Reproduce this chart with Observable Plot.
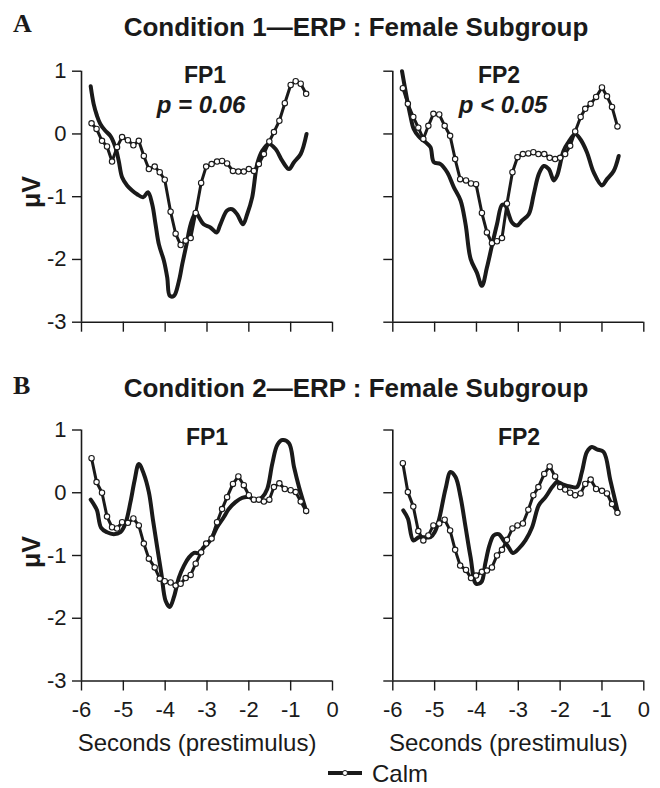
<!DOCTYPE html>
<html>
<head>
<meta charset="utf-8">
<script src="https://cdn.jsdelivr.net/npm/d3@7"></script>
<script src="https://cdn.jsdelivr.net/npm/@observablehq/plot@0.6"></script>
<style>
  html, body { margin: 0; padding: 0; background: #fff; }
  #wrap { position: relative; width: 660px; height: 788px; overflow: hidden; background: #fff; }
  #wrap > svg, #wrap > figure { position: absolute; margin: 0; }
</style>
</head>
<body>
<div id="wrap"></div>
<script>
// ---------- data ----------
const xTicks = [-6, -5, -4, -3, -2, -1, 0];
const xTickLabels = ["-6", "-5", "-4", "-3", "-2", "-1", "0"];
const yTicks = [1, 0, -1, -2, -3];
const yTickLabels = ["1", "0", "-1", "-2", "-3"];

const titleA = "Condition 1\u2014ERP : Female Subgroup";
const titleB = "Condition 2\u2014ERP : Female Subgroup";
const channels = ["FP1", "FP2"];
const pLabels = ["p = 0.06", "p < 0.05"];
const xTitle = "Seconds (prestimulus)";
const yTitle = "\u03bcV";
const legendLabel = "Calm";

// Calm condition (line with open markers), common sample times (s)
const calmT = [-5.76,-5.64,-5.51,-5.39,-5.27,-5.15,-5.03,-4.89,-4.76,-4.63,
               -4.51,-4.39,-4.25,-4.13,-4.01,-3.87,-3.75,-3.63,-3.51,-3.39,
               -3.27,-3.14,-3.02,-2.89,-2.76,-2.64,-2.52,-2.38,-2.25,-2.12,
               -2.00,-1.88,-1.76,-1.64,-1.51,-1.40,-1.27,-1.14,-1.00,-0.88,
               -0.76,-0.63];
const calmA_FP1 = [0.17,0.08,-0.11,-0.20,-0.44,-0.21,-0.05,-0.10,-0.18,-0.11,
                   -0.35,-0.56,-0.52,-0.61,-0.73,-1.24,-1.59,-1.77,-1.70,-1.66,
                   -1.26,-0.78,-0.52,-0.48,-0.44,-0.43,-0.47,-0.59,-0.60,-0.60,
                   -0.56,-0.59,-0.48,-0.32,-0.12,0.03,0.21,0.49,0.78,0.84,
                   0.80,0.64];
const calmA_FP2 = [0.73,0.48,0.27,0.10,-0.08,0.13,0.32,0.31,0.13,-0.03,
                   -0.40,-0.72,-0.74,-0.79,-0.80,-1.26,-1.57,-1.74,-1.71,-1.66,
                   -1.11,-0.61,-0.37,-0.32,-0.31,-0.29,-0.32,-0.32,-0.38,-0.40,
                   -0.38,-0.32,-0.19,0.04,0.27,0.40,0.48,0.59,0.74,0.60,
                   0.43,0.12];
const calmB_FP1 = [0.55,0.17,0.00,-0.38,-0.55,-0.57,-0.47,-0.48,-0.41,-0.52,
                   -0.81,-1.05,-1.19,-1.37,-1.41,-1.43,-1.48,-1.45,-1.36,-1.31,
                   -1.13,-0.95,-0.81,-0.73,-0.47,-0.26,-0.07,0.14,0.26,0.12,
                   -0.04,-0.11,-0.11,-0.14,-0.11,0.09,0.15,0.06,0.04,0.01,
                   -0.14,-0.29];
const calmB_FP2 = [0.47,0.01,-0.22,-0.61,-0.76,-0.68,-0.52,-0.49,-0.43,-0.60,
                   -0.91,-1.16,-1.23,-1.36,-1.32,-1.26,-1.24,-1.19,-1.00,-0.91,
                   -0.75,-0.57,-0.52,-0.49,-0.27,-0.04,0.09,0.30,0.42,0.26,
                   0.09,0.05,0.00,-0.04,-0.01,0.14,0.21,0.06,0.03,-0.01,
                   -0.18,-0.32];

// Other condition (solid line)
const solidA_FP1_t = [-5.78,-5.71,-5.63,-5.55,-5.43,-5.31,-5.19,-5.11,-5.03,-4.91,
                      -4.79,-4.67,-4.53,-4.41,-4.31,-4.23,-4.15,-4.03,-3.95,-3.89,
                      -3.79,-3.67,-3.59,-3.49,-3.39,-3.27,-3.19,-3.08,-2.92,-2.77,
                      -2.68,-2.52,-2.40,-2.28,-2.14,-2.04,-1.92,-1.80,-1.68,-1.52,
                      -1.36,-1.20,-1.04,-0.92,-0.76,-0.62];
const solidA_FP1_v = [0.76,0.48,0.29,0.16,0.05,-0.03,-0.21,-0.43,-0.69,-0.82,
                      -0.90,-0.96,-1.01,-0.93,-1.12,-1.44,-1.76,-2.02,-2.29,-2.58,
                      -2.58,-2.34,-2.07,-1.76,-1.44,-1.25,-1.33,-1.44,-1.49,-1.57,
                      -1.44,-1.22,-1.20,-1.28,-1.44,-1.28,-1.01,-0.48,-0.27,-0.16,
                      -0.24,-0.43,-0.56,-0.45,-0.32,0.00];
const solidA_FP2_t = [-5.78,-5.67,-5.58,-5.50,-5.38,-5.22,-5.10,-5.02,-4.86,-4.70,
                      -4.54,-4.38,-4.26,-4.14,-3.99,-3.87,-3.75,-3.63,-3.51,-3.39,
                      -3.31,-3.23,-3.15,-3.03,-2.91,-2.75,-2.63,-2.51,-2.39,-2.27,
                      -2.15,-2.07,-1.92,-1.80,-1.64,-1.52,-1.36,-1.20,-1.00,-0.88,
                      -0.72,-0.60];
const solidA_FP2_v = [1.00,0.59,0.29,0.08,-0.04,-0.13,-0.21,-0.45,-0.48,-0.61,
                      -0.85,-1.06,-1.44,-1.99,-2.21,-2.42,-2.13,-1.78,-1.44,-1.13,
                      -1.14,-1.28,-1.41,-1.46,-1.38,-1.28,-0.96,-0.64,-0.51,-0.56,
                      -0.74,-0.66,-0.27,-0.13,0.00,-0.08,-0.29,-0.61,-0.82,-0.72,
                      -0.59,-0.35];
const solidB_FP1_t = [-5.78,-5.71,-5.63,-5.53,-5.39,-5.23,-5.07,-4.95,-4.83,-4.73,
                      -4.63,-4.51,-4.39,-4.29,-4.19,-4.09,-3.99,-3.89,-3.79,-3.67,
                      -3.55,-3.43,-3.31,-3.19,-3.08,-2.92,-2.76,-2.60,-2.48,-2.32,
                      -2.16,-2.00,-1.84,-1.68,-1.56,-1.44,-1.32,-1.20,-1.04,-0.92,
                      -0.80,-0.62];
const solidB_FP1_v = [-0.11,-0.18,-0.28,-0.56,-0.63,-0.66,-0.63,-0.49,-0.15,0.20,
                      0.46,0.30,0.01,-0.44,-0.87,-1.29,-1.72,-1.82,-1.66,-1.35,
                      -1.16,-1.03,-0.96,-0.96,-0.87,-0.76,-0.55,-0.39,-0.26,-0.15,
                      -0.08,-0.07,-0.12,-0.07,0.06,0.46,0.76,0.84,0.79,0.41,
                      0.09,-0.31];
const solidB_FP2_t = [-5.75,-5.64,-5.51,-5.38,-5.22,-5.10,-5.00,-4.90,-4.74,-4.62,
                      -4.50,-4.38,-4.26,-4.14,-4.01,-3.88,-3.79,-3.69,-3.59,-3.47,
                      -3.35,-3.23,-3.13,-2.99,-2.83,-2.67,-2.51,-2.35,-2.19,-2.07,
                      -1.92,-1.76,-1.60,-1.48,-1.36,-1.24,-1.12,-0.96,-0.80,-0.63];
const solidB_FP2_v = [-0.28,-0.41,-0.76,-0.71,-0.71,-0.71,-0.63,-0.44,0.06,0.33,
                      0.25,-0.07,-0.55,-1.03,-1.45,-1.42,-1.13,-0.84,-0.68,-0.66,
                      -0.76,-0.87,-0.96,-0.89,-0.76,-0.55,-0.20,-0.07,0.09,0.17,
                      0.13,0.10,0.09,0.33,0.65,0.73,0.69,0.65,0.20,-0.28];

// ---------- drawing ----------
const INK = "#1a1a1a";
const FONT = "'Liberation Sans', Arial, Helvetica, sans-serif";
const wrap = document.getElementById("wrap");

function panel({calmV, solidT, solidV, left, top, width, height, mL, mR, mT, mB, yLabels, xLabels}) {
  const calm = calmT.map((t, i) => ({t, v: calmV[i]}));
  const solid = solidT.map((t, i) => ({t, v: solidV[i]}));
  const marks = [
    Plot.axisY({ticks: yTicks, tickSize: 9, tickPadding: 6, strokeWidth: 1.4, fontSize: 22,
                tickFormat: yLabels ? (d => yTickLabels[yTicks.indexOf(d)]) : (() => ""), label: null}),
    Plot.axisX({ticks: xTicks, tickSize: 10, tickPadding: 10, strokeWidth: 1.4, fontSize: 22,
                tickFormat: xLabels ? (d => xTickLabels[xTicks.indexOf(d)]) : (() => ""), label: null}),
    Plot.ruleX([-6], {y1: -3, y2: 1, stroke: INK, strokeWidth: 1.6}),
    Plot.ruleY([-3], {x1: -6, x2: 0, stroke: INK, strokeWidth: 1.6}),
    Plot.line(solid, {x: "t", y: "v", stroke: INK, strokeWidth: 4, curve: "catmull-rom"}),
    Plot.line(calm, {x: "t", y: "v", stroke: INK, strokeWidth: 3}),
    Plot.dot(calm, {x: "t", y: "v", r: 2.7, fill: "white", stroke: INK, strokeWidth: 1.1})
  ];
  if (xLabels) {
    marks.push(Plot.text([xTitle], {text: d => d, frameAnchor: "bottom", dy: 62, dx: -10,
                                     lineAnchor: "middle", fontSize: 24, fill: INK}));
  }
  const svg = Plot.plot({
    width, height,
    marginLeft: mL, marginRight: mR, marginTop: mT, marginBottom: mB,
    x: {domain: [-6, 0], label: null},
    y: {domain: [-3, 1], label: null},
    style: {fontFamily: FONT, fontSize: "22px", color: INK, background: "transparent", overflow: "visible"},
    marks
  });
  svg.style.left = left + "px";
  svg.style.top = top + "px";
  wrap.appendChild(svg);
}

// Condition 1 (A)
panel({calmV: calmA_FP1, solidT: solidA_FP1_t, solidV: solidA_FP1_v,
       left: 0, top: 50, width: 345, height: 290, mL: 81, mR: 13, mT: 20.7, mB: 18.3,
       yLabels: true, xLabels: false});
panel({calmV: calmA_FP2, solidT: solidA_FP2_t, solidV: solidA_FP2_v,
       left: 330, top: 50, width: 330, height: 290, mL: 62.3, mR: 16.7, mT: 20.7, mB: 18.3,
       yLabels: false, xLabels: false});
// Condition 2 (B)
panel({calmV: calmB_FP1, solidT: solidB_FP1_t, solidV: solidB_FP1_v,
       left: 0, top: 400, width: 345, height: 388, mL: 81, mR: 13, mT: 29.5, mB: 107.5,
       yLabels: true, xLabels: true});
panel({calmV: calmB_FP2, solidT: solidB_FP2_t, solidV: solidB_FP2_v,
       left: 330, top: 400, width: 330, height: 388, mL: 62.3, mR: 16.7, mT: 29.5, mB: 107.5,
       yLabels: false, xLabels: true});

// ---------- text overlay ----------
const ov = d3.select(wrap).append("svg")
  .attr("width", 660).attr("height", 788)
  .style("left", "0px").style("top", "0px")
  .style("pointer-events", "none")
  .attr("font-family", FONT).attr("fill", INK);

function txt(x, y, s, size, opts = {}) {
  const t = ov.append("text").attr("x", x).attr("y", y).text(s)
    .attr("font-size", size).attr("text-anchor", opts.anchor || "middle")
    .attr("font-weight", opts.weight || "normal");
  if (opts.italic) t.attr("font-style", "italic");
  if (opts.family) t.attr("font-family", opts.family);
  if (opts.baseline) t.attr("dominant-baseline", opts.baseline);
  if (opts.rotate) t.attr("transform", `rotate(${opts.rotate},${x},${y})`);
  return t;
}
const SERIF = "'Liberation Serif', 'Times New Roman', serif";
txt(13, 32, "A", 26, {anchor: "start", weight: "bold", family: SERIF});
txt(13, 394, "B", 26, {anchor: "start", weight: "bold", family: SERIF});
txt(356, 36, titleA, 26, {weight: "bold"});
txt(356, 397, titleB, 26, {weight: "bold"});
txt(205, 83, channels[0], 23, {weight: "bold"});
txt(499, 83, channels[1], 23, {weight: "bold"});
txt(201, 113, pLabels[0], 24, {weight: "bold", italic: true});
txt(503, 113, pLabels[1], 24, {weight: "bold", italic: true});
txt(207, 445, channels[0], 23, {weight: "bold"});
txt(519, 445, channels[1], 23, {weight: "bold"});
txt(31, 192, yTitle, 25, {weight: "bold", rotate: -90, baseline: "central"});
txt(31, 552, yTitle, 25, {weight: "bold", rotate: -90, baseline: "central"});

// legend
ov.append("line").attr("x1", 328).attr("x2", 362).attr("y1", 773).attr("y2", 773)
  .attr("stroke", INK).attr("stroke-width", 4);
ov.append("circle").attr("cx", 345).attr("cy", 773).attr("r", 2.5)
  .attr("fill", "white").attr("stroke", INK).attr("stroke-width", 1);
txt(372, 773, legendLabel, 24, {anchor: "start", baseline: "central"});
</script>
</body>
</html>
